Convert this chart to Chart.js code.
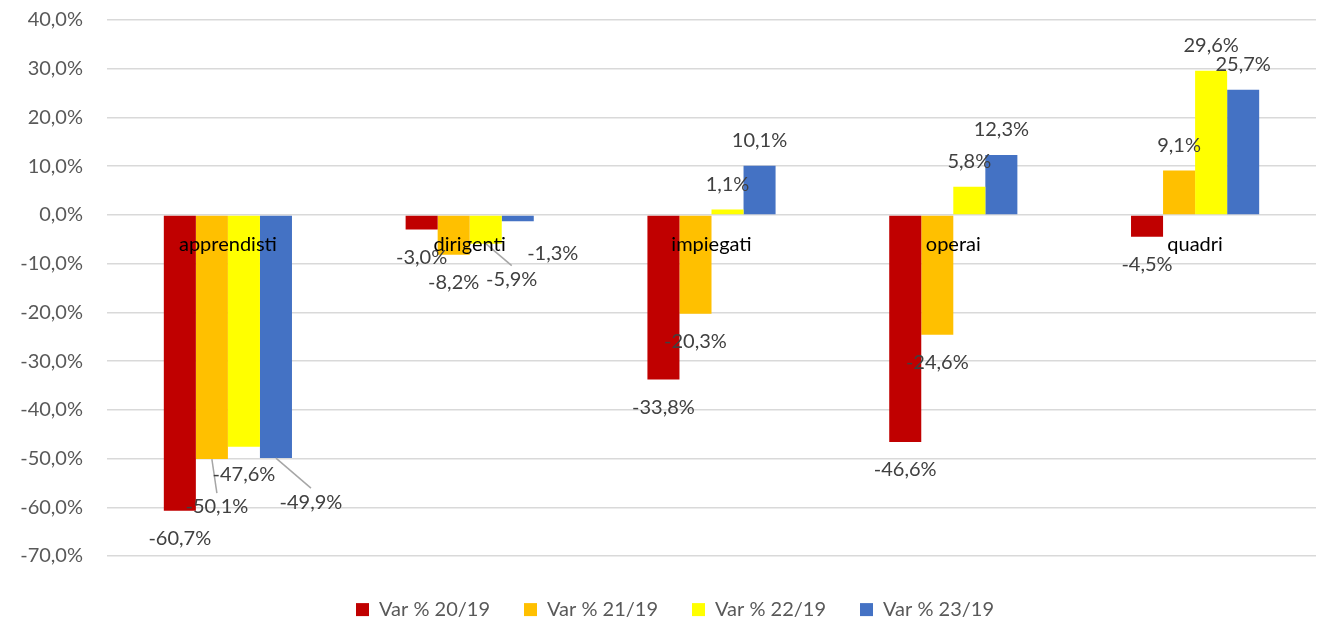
<!DOCTYPE html>
<html>
<head>
<meta charset="utf-8">
<script src="https://cdn.jsdelivr.net/npm/chart.js@4.4.1/dist/chart.umd.min.js"></script>
<style>
  html, body { margin: 0; padding: 0; background: #fff; }
  #wrap { width: 1319px; height: 620px; }
</style>
</head>
<body>
<div id="wrap"><canvas id="varChart" width="1319" height="620"></canvas></div>
<script>
// categories and series
var categories = ['apprendisti', 'dirigenti', 'impiegati', 'operai', 'quadri'];
var seriesNames = ['Var % 20/19', 'Var % 21/19', 'Var % 22/19', 'Var % 23/19'];
var var2019_20 = [-60.7, -3.0, -33.8, -46.6, -4.5];
var var2019_21 = [-50.1, -8.2, -20.3, -24.6, 9.1];
var var2019_22 = [-47.6, -5.9, 1.1, 5.8, 29.6];
var var2019_23 = [-49.9, -1.3, 10.1, 12.3, 25.7];
var yTicks = [-70, -60, -50, -40, -30, -20, -10, 0, 10, 20, 30, 40];

var colors = ['#C00000', '#FFC000', '#FFFF00', '#4472C4'];
var fontFam = 'Lato, "Open Sans", sans-serif';

// labels that were dragged away from the bar end: [dx, dy, leader line]
var labelShift = {
    '1,0': [5, 20, true],
    '3,0': [35, 16, true],
    '2,1': [26, 8, true],
    '3,1': [35, 4, false]
};

function pct(v) {
    return v.toFixed(1).replace('.', ',') + '%';
}

// value labels drawn at the outside end of each bar
var barLabels = {
    id: 'barLabels',
    beforeInit: function (chart) {
        // fixed legend band height under the plot
        var lg = chart.legend;
        var fit = lg.fit;
        lg.fit = function () {
            fit.call(this);
            this.height = 64;
        };
    },
    afterLayout: function (chart) {
        // legend sits a bit right of the canvas centre
        chart.legend.left += 17;
        chart.legend.right += 17;
    },
    afterDatasetsDraw: function (chart) {
        var ctx = chart.ctx;
        ctx.save();
        ctx.font = '20px ' + fontFam;
        ctx.textAlign = 'center';
        ctx.textBaseline = 'middle';
        chart.data.datasets.forEach(function (ds, i) {
            var meta = chart.getDatasetMeta(i);
            meta.data.forEach(function (bar, j) {
                var v = ds.data[j];
                var s = labelShift[i + ',' + j] || [0, 0, false];
                var x = bar.x + s[0];
                var y = bar.y + (v < 0 ? 28 : -25) + s[1];
                if (s[2]) {
                    ctx.strokeStyle = '#a6a6a6';
                    ctx.lineWidth = 1.5;
                    ctx.beginPath();
                    ctx.moveTo(bar.x, bar.y);
                    ctx.lineTo(x, y - 14);
                    ctx.stroke();
                }
                ctx.fillStyle = '#404040';
                ctx.fillText(pct(v), x, y);
            });
        });
        ctx.restore();
    }
};

var seriesData = [var2019_20, var2019_21, var2019_22, var2019_23];

var ctx1 = document.getElementById('varChart').getContext('2d');
var varChart = new Chart(ctx1, {
    type: 'bar',
    data: {
        labels: categories,
        datasets: seriesData.map(function (d, i) {
            return {
                label: seriesNames[i],
                data: d,
                backgroundColor: colors[i],
                borderWidth: 0,
                barPercentage: 1,
                categoryPercentage: 0.53
            };
        })
    },
    options: {
        responsive: false,
        animation: false,
        layout: { padding: { top: 20, right: 3, bottom: 0, left: 0 } },
        scales: {
            x: {
                position: { y: 0 },
                grid: { display: false, drawTicks: false },
                border: { display: false },
                ticks: {
                    z: 1,
                    color: '#000',
                    font: { family: fontFam, size: 20 },
                    padding: 18,
                    maxRotation: 0
                }
            },
            y: {
                min: -70,
                max: 40,
                afterBuildTicks: function (scale) {
                    scale.ticks = yTicks.map(function (v) { return { value: v }; });
                },
                afterFit: function (scale) {
                    scale.width = 107;
                    scale.paddingTop = 0;
                },
                grid: { color: '#d9d9d9', lineWidth: 1.5, drawTicks: false },
                border: { display: false },
                ticks: {
                    color: '#595959',
                    font: { family: fontFam, size: 20 },
                    padding: 24,
                    callback: function (v) { return pct(v); }
                }
            }
        },
        plugins: {
            tooltip: { enabled: false },
            legend: {
                position: 'bottom',
                title: { display: true, text: ' ', font: { size: 8 }, padding: 0 },
                labels: {
                    color: '#595959',
                    font: { family: fontFam, size: 20 },
                    boxWidth: 13,
                    boxHeight: 13,
                    padding: 34
                }
            }
        }
    },
    plugins: [barLabels]
});
</script>
</body>
</html>
